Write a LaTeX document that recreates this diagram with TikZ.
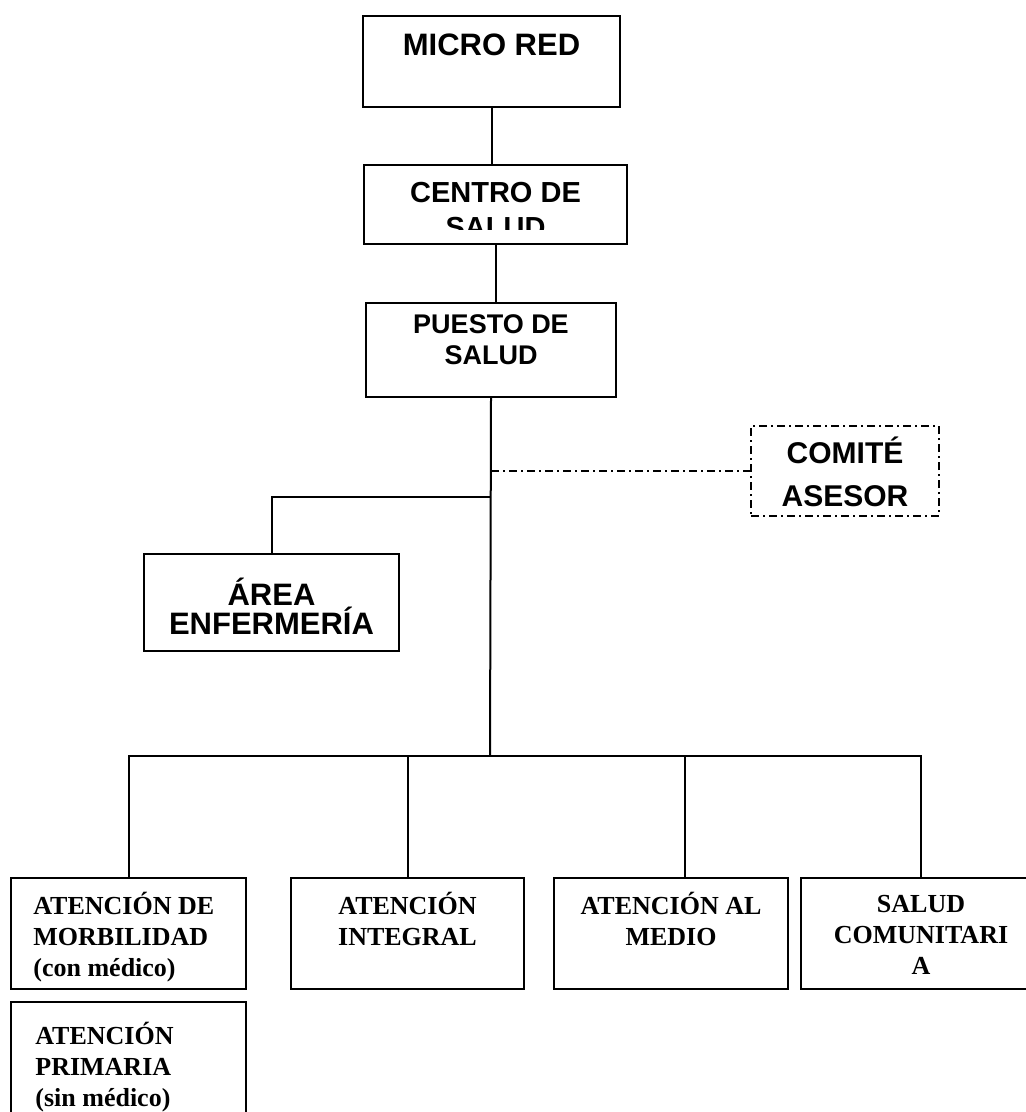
\documentclass[tikz,border=0pt]{standalone}
\usepackage{fontspec}
\setmainfont{Liberation Serif}
\setsansfont{Liberation Sans}
\usetikzlibrary{positioning}

\tikzset{
    unit/.style={draw, line width=1pt, inner sep=0pt, anchor=north west},
    head/.style={font=\sffamily\bfseries\fontsize{15.5}{17.5}\selectfont, align=center, anchor=north, inner sep=0pt},
    service/.style={font=\rmfamily\bfseries\fontsize{13}{15.5}\selectfont, inner sep=0pt},
    link/.style={line width=1pt},
    advice/.style={line width=1pt, dash pattern=on 4pt off 2pt on 1pt off 2pt},
}

\begin{document}
\begin{tikzpicture}[x=0.5pt, y=-0.5pt]
    \useasboundingbox (0, 0) rectangle (1026, 1112);

    % Draw the upper boxes
    \node[unit, minimum width=128.5pt, minimum height=45.5pt] (micro) at (362, 15) {};
    \node[unit, minimum width=131.5pt, minimum height=39.5pt] (centro) at (363, 164) {};
    \node[unit, minimum width=125pt, minimum height=47pt] (puesto) at (365, 302) {};
    \node[unit, advice, minimum width=94pt, minimum height=45pt] (comite) at (750, 425) {};
    \node[unit, minimum width=127.5pt, minimum height=48.5pt] (area) at (143, 553) {};

    % Draw the lower boxes
    \node[unit, minimum width=117.5pt, minimum height=55.5pt] (morbilidad) at (10, 877) {};
    \node[unit, minimum width=116.5pt, minimum height=55.5pt] (integral) at (290, 877) {};
    \node[unit, minimum width=117pt, minimum height=55.5pt] (medio) at (553, 877) {};
    \node[unit, minimum width=120pt, minimum height=55.5pt] (comunitaria) at (800, 877) {};
    \node[unit, minimum width=117.5pt, minimum height=65pt] (primaria) at (10, 1001) {};

    % Add the texts
    \node[head] (microtxt) at ([yshift=-9pt]micro.north) {MICRO RED};
    \begin{scope}
        \clip (centro.north west) rectangle ([yshift=-33pt]centro.north east);
        \node[head, font=\sffamily\bfseries\fontsize{14.5}{17.5}\selectfont] (centrotxt) at ([yshift=-9pt]centro.north) {CENTRO DE\\SALUD};
    \end{scope}
    \node[head, font=\sffamily\bfseries\fontsize{13.5}{15.5}\selectfont] (puestotxt) at ([yshift=-6pt]puesto.north) {PUESTO DE\\SALUD};
    \node[head, font=\sffamily\bfseries\fontsize{15}{21.5}\selectfont] (comitetxt) at ([yshift=-6pt]comite.north) {COMITÉ\\ASESOR};
    \node[head, font=\sffamily\bfseries\fontsize{15.5}{14.5}\selectfont] (areatxt) at ([yshift=-12.5pt]area.north) {ÁREA\\ENFERMERÍA};

    \node[service, align=left, anchor=north west] (morbilidadtxt) at ([xshift=11.5pt, yshift=-7.5pt]morbilidad.north west) {ATENCIÓN DE\\MORBILIDAD\\(con médico)};
    \node[service, align=center, anchor=north] (integraltxt) at ([yshift=-7.5pt]integral.north) {ATENCIÓN\\INTEGRAL};
    \node[service, align=center, anchor=north] (mediotxt) at ([yshift=-7.5pt]medio.north) {ATENCIÓN AL\\MEDIO};
    \node[service, align=center, anchor=north] (comunitariatxt) at ([yshift=-9pt]comunitaria.north) {SALUD\\COMUNITARI\\A};
    \node[service, align=left, anchor=north west] (primariatxt) at ([xshift=12.5pt, yshift=-10.5pt]primaria.north west) {ATENCIÓN\\PRIMARIA\\(sin médico)};

    % Draw the connectors
    \coordinate (bus) at (490, 756);
    \draw[link] (micro.south) -- (micro.south |- centro.north);
    \draw[link] (centro.south) -- (centro.south |- puesto.north);
    \draw[link] (puesto.south) -- (bus);
    \draw[advice] (puesto.south |- comite.west) -- (comite.west);
    \draw[link] (puesto.south |- 0, 497) -| (area.north);
    \draw[link] (morbilidad.north) |- (comunitaria.north |- bus) -- (comunitaria.north);
    \draw[link] (integral.north) -- (integral.north |- bus);
    \draw[link] ([xshift=7pt]medio.north) -- ([xshift=7pt]medio.north |- bus);
\end{tikzpicture}
\end{document}
